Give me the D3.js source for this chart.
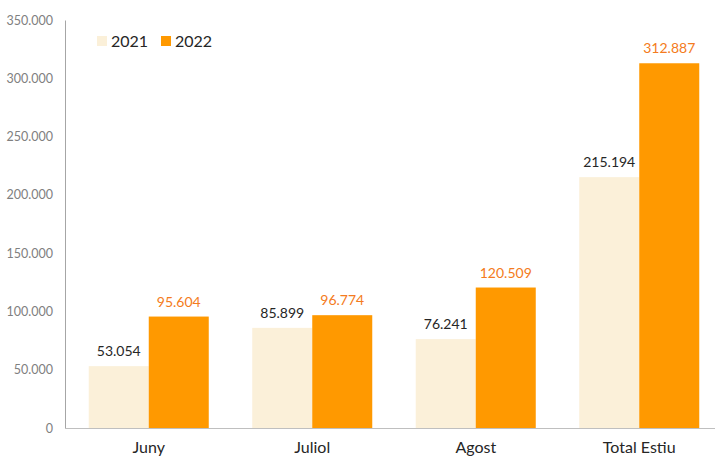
<!DOCTYPE html>
<html><head><meta charset="utf-8">
<script src="https://cdn.jsdelivr.net/npm/d3@7"></script>
<style>body{margin:0;background:#fff}svg{display:block;font-family:Lato,"Open Sans",sans-serif}</style>
</head><body><svg id="c" width="715" height="459"></svg>
<script>
const categories = ["Juny","Juliol","Agost","Total Estiu"];
const seriesNames = ["2021","2022"];
const values2021 = [53054, 85899, 76241, 215194];
const values2022 = [95604, 96774, 120509, 312887];
const yTicks = [0,50000,100000,150000,200000,250000,300000,350000];
const colors = ["#FBF0D9","#FF9900"];
const labelColors = ["#262626","#F47B20"];

const svg = d3.select("#c");
const x0 = 65, yTop = 20, yBot = 428;
const x = d3.scaleBand().domain(categories).range([x0+2,x0+2+654]).paddingInner(0.266).paddingOuter(0.133);
const xs = d3.scaleBand().domain(seriesNames).range([0,x.bandwidth()]);
const y = d3.scaleLinear().domain([0,350000]).range([yBot,yTop]);
const fmt = v => d3.format(",")(v).replace(/,/g,".");

const yAxis = d3.axisLeft(y).tickValues(yTicks).tickSize(0).tickPadding(12).tickFormat(fmt);
const ga = svg.append("g").attr("transform",`translate(${x0},0)`).call(yAxis);
ga.select(".domain").attr("stroke","#a6a6a6");
ga.selectAll("text").attr("fill","#808080").style("font-size","12.5px").style("font-family","Lato,sans-serif");

const data = [values2021, values2022];
data.forEach((vals,si)=>{
  const g = svg.append("g");
  g.selectAll("rect").data(vals).join("rect")
    .attr("x",(d,i)=>x(categories[i])+xs(seriesNames[si]))
    .attr("y",d=>y(d)).attr("width",xs.bandwidth()).attr("height",d=>yBot-y(d))
    .attr("fill",colors[si]);
  g.selectAll("text").data(vals).join("text")
    .attr("x",(d,i)=>x(categories[i])+xs(seriesNames[si])+xs.bandwidth()/2)
    .attr("y",d=>y(d)-10).attr("text-anchor","middle")
    .attr("fill",labelColors[si]).style("font-size","14px").text(fmt);
});

const xAxis = d3.axisBottom(x).tickSize(0).tickPadding(14);
const gx = svg.append("g").attr("transform",`translate(0,${yBot})`).call(xAxis);
gx.select(".domain").attr("stroke","#bfbfbf").attr("d",`M${x0},0.5H715`);
gx.selectAll("text").attr("fill","#262626").style("font-size","16px").style("font-family","Lato,sans-serif");

const leg = svg.append("g");
const legX = [97,161];
seriesNames.forEach((n,i)=>{
  leg.append("rect").attr("x",legX[i]).attr("y",36).attr("width",10).attr("height",10).attr("fill",colors[i]);
  leg.append("text").attr("x",legX[i]+14).attr("y",47).attr("fill","#262626").style("font-size","16px").text(n);
});
</script></body></html>
